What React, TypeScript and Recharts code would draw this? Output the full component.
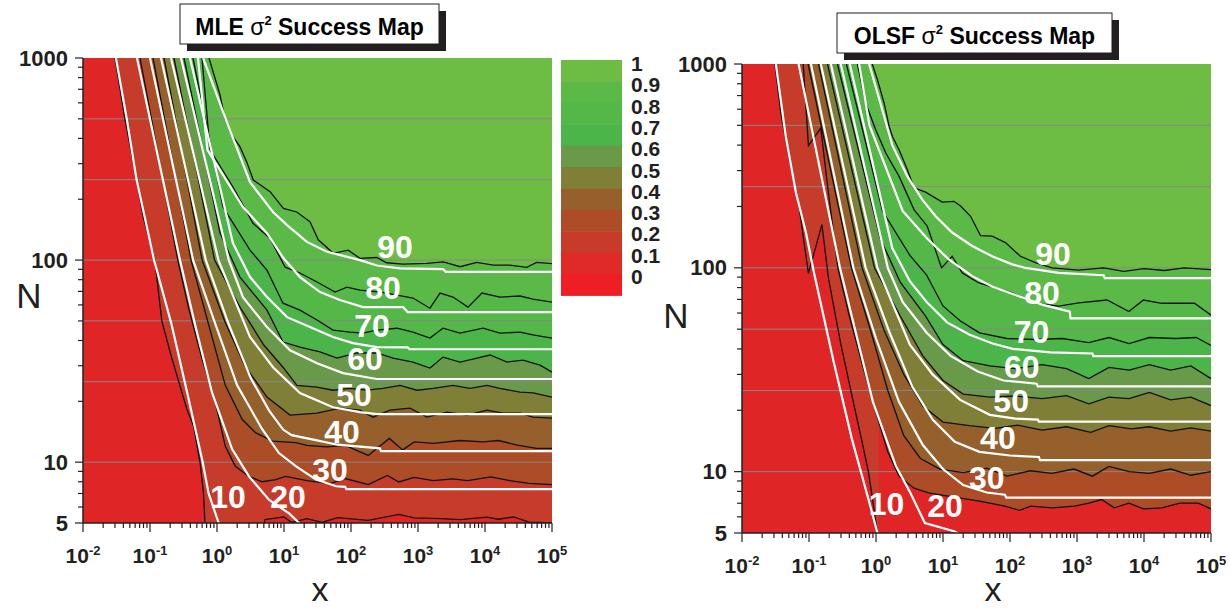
import React from "react";
import { ComposedChart, XAxis, YAxis, Area, Line, Scatter, CartesianGrid } from "recharts";

type Pt = [number, number];
type Tag = { x: number; n: number; t: string };

const FONT = "'Liberation Sans', Arial, sans-serif";
const INK = "#231f20";

// MLE panel: black contour boundaries (success 0.1 ... 0.9), points are [x, N]
const MLE_B1: Pt[] = [[0.03, 1000], [0.042, 506], [0.063, 250], [0.079, 164], [0.118, 100], [0.15, 50], [0.21, 33], [0.355, 18.3], [0.45, 15], [0.56, 9.9], [0.63, 7], [0.66, 5], [0.67, 4], [4.5, 4], [5.2, 5.2], [10, 5.36], [13, 5.03], [22, 5.26], [37, 5.03], [63, 5.32], [181, 5.15], [517, 5.52], [877, 5.3], [2200, 5.26], [4250, 5.2], [10700, 5.34], [15800, 5.22], [26800, 5.36], [45400, 5.05], [100000, 5.0]];
const MLE_B2: Pt[] = [[0.071, 1000], [0.26, 100], [0.376, 58], [0.596, 32.6], [0.944, 19.8], [1.33, 12], [1.88, 9.55], [2.99, 8.5], [4.73, 8.0], [7.5, 8.2], [10.6, 8.5], [22, 8.1], [48.5, 7.84], [82, 8.3], [181, 7.75], [349, 8.6], [517, 7.98], [877, 8.4], [1690, 8.1], [3270, 8.27], [5530, 8.1], [12200, 8.45], [23500, 8.1], [45400, 7.85], [100000, 7.75]];
const MLE_B3: Pt[] = [[0.111, 1000], [0.41, 100], [0.75, 48], [1.33, 24], [2.37, 16.3], [3.76, 14], [6.7, 12.7], [15, 12.5], [22, 12.1], [42.5, 11.9], [82, 12.1], [181, 10.8], [373, 13.1], [590, 11.5], [877, 12.6], [1700, 12.4], [4250, 12.8], [9350, 12.6], [15800, 12.8], [30600, 12.15], [59000, 11.7], [100000, 11.7]];
const MLE_B4: Pt[] = [[0.162, 1000], [0.6, 100], [1.3, 50], [2.6, 30], [5.57, 21], [12.3, 17.1], [31.1, 17.5], [68.5, 18.5], [136, 18.1], [213, 16.7], [382, 18.1], [760, 18.5], [1360, 16.7], [2710, 17.7], [5380, 17.1], [10700, 18.1], [18600, 17.5], [33300, 17.5], [52000, 16.7], [100000, 16.5]];
const MLE_B5: Pt[] = [[0.228, 1000], [0.92, 100], [2.2, 58.5], [5, 38], [9.66, 29.5], [15.6, 24], [31.1, 23.5], [53.8, 22.7], [96.7, 23.2], [173, 22.7], [300, 23.2], [540, 24], [966, 22.7], [1680, 23.2], [3330, 24], [5970, 23.2], [10700, 24], [16700, 23.2], [33300, 22.2], [52000, 22], [100000, 21]];
const MLE_B6: Pt[] = [[0.322, 1000], [1.11, 136], [2.2, 82.4], [5.57, 56.5], [9.66, 39.3], [17.3, 37.1], [34.5, 35.1], [61.8, 32.7], [123, 34.7], [244, 34.7], [424, 32.7], [842, 31.3], [1510, 29.2], [2360, 33.1], [4240, 31.3], [7600, 32.7], [11900, 33.9], [21300, 31.3], [36900, 32], [66200, 30.2], [100000, 27.9]];
const MLE_B7: Pt[] = [[0.438, 1000], [1.23, 183], [3.11, 112], [5.57, 89.1], [9.66, 61.2], [17.3, 56.5], [31.1, 50.5], [53.8, 45], [96.7, 44], [151, 43.5], [243, 45], [486, 46], [842, 44], [1510, 41.1], [2360, 46], [4240, 43.5], [9330, 46], [16700, 43.5], [33300, 44], [52000, 42.6], [100000, 41.1]];
const MLE_B8: Pt[] = [[0.597, 1000], [0.787, 351], [1.73, 230], [3.45, 152], [6.18, 128], [10.4, 92.3], [17.3, 86.3], [31.1, 77.9], [57.7, 69.5], [87, 73.5], [136, 71], [271, 69.5], [486, 67.1], [842, 64.9], [1510, 57.8], [2130, 68.7], [3330, 65.6], [5570, 58.5], [9020, 68.7], [16700, 65.6], [33300, 66.4], [52000, 64.1], [100000, 62]];
const MLE_B9: Pt[] = [[0.76, 1000], [1.11, 656], [1.31, 503], [1.66, 416], [2.2, 364], [2.77, 307], [3.48, 249], [6.2, 218], [9.8, 180], [15.5, 173], [24.4, 155], [32.5, 126], [54.5, 108], [91, 112], [136, 102], [242, 103], [341, 97], [603, 95.5], [1350, 96.3], [2400, 98], [4260, 92.7], [7520, 97.5], [13300, 94.5], [23600, 94.5], [41900, 92], [59000, 97.5], [100000, 96]];

// MLE panel: white percentile curves 10 ... 90
const MLE_W10: Pt[] = [[0.031, 1000], [0.045, 500], [0.063, 250], [0.115, 100], [0.21, 48], [0.36, 22], [0.6, 10.3], [0.75, 7], [1.06, 5], [1.2, 4.5]];
const MLE_W20: Pt[] = [[0.064, 1000], [0.28, 100], [0.47, 48], [0.84, 22.2], [1.68, 11.6], [3.0, 8.5], [6.0, 6.5], [11.9, 5.58], [16.8, 5.0], [18, 4.8]];
const MLE_W30: Pt[] = [[0.1, 1000], [0.44, 100], [0.95, 48], [2.0, 24], [4.7, 14.6], [8.4, 11.1], [15, 9.55], [30, 8.2], [60, 7.6], [82, 7.55], [85, 7.35], [100000, 7.35]];
const MLE_W40: Pt[] = [[0.146, 1000], [0.68, 100], [1.5, 48], [3.2, 26], [6, 18], [9.7, 14.5], [13, 13.6], [28.6, 12.9], [63, 12.2], [270, 11.7], [280, 11.35], [100000, 11.35]];
const MLE_W50: Pt[] = [[0.206, 1000], [1.05, 100], [3.11, 41.6], [6.85, 29.5], [17.3, 22], [53.8, 18.7], [136, 17.7], [243, 17.3], [100000, 17.3]];
const MLE_W60: Pt[] = [[0.29, 1000], [1.5, 100], [2.44, 65.6], [5.57, 46.6], [12.3, 35.8], [31.1, 30.9], [76, 27.6], [243, 25.8], [100000, 25.8]];
const MLE_W70: Pt[] = [[0.395, 1000], [1.73, 121], [3.11, 82.4], [5.57, 65.6], [11.1, 52.2], [24.4, 46.6], [53.8, 41.6], [107, 38.8], [243, 37.1], [700, 37], [750, 36.2], [100000, 36.2]];
const MLE_W80: Pt[] = [[0.52, 1000], [0.72, 351], [2.44, 183], [5.57, 136], [9.66, 103], [17.3, 82.4], [34.5, 69.5], [68.5, 63.4], [151, 58.5], [600, 58.5], [700, 55.3], [100000, 55.3]];
const MLE_W90: Pt[] = [[0.62, 1000], [1.46, 465], [3.11, 243], [6.85, 173], [11.1, 149], [22, 123], [43.8, 110], [136, 100], [243, 94], [540, 91], [2350, 90.3], [2600, 87.5], [100000, 87.5]];

const MLE_TAGS: Tag[] = [
  { x: 454, n: 116, t: "90" }, { x: 300, n: 72.6, t: "80" }, { x: 206, n: 47.1, t: "70" },
  { x: 162, n: 32.4, t: "60" }, { x: 111, n: 21.5, t: "50" }, { x: 73.5, n: 14.1, t: "40" },
  { x: 48.6, n: 9.1, t: "30" }, { x: 11.5, n: 6.7, t: "20" }, { x: 1.46, n: 6.7, t: "10" },
];

// OLSF panel
const OLSF_B1: Pt[] = [[0.031, 1000], [0.038, 575], [0.051, 340], [0.071, 200], [0.098, 94], [0.156, 163], [0.195, 89], [0.301, 41.7], [0.497, 19.5], [0.638, 13.4], [0.77, 10], [0.873, 7.6], [1.05, 5], [1.1, 4.5]];
const OLSF_B2: Pt[] = [[0.082, 1000], [0.098, 398], [0.15, 485], [0.19, 250], [0.27, 100], [0.4, 58], [0.65, 32], [1.0, 19.5], [1.5, 12.5], [2.2, 9.5], [3.69, 8.3], [6.09, 7.87], [11.4, 7.6], [35, 7.16], [84, 6.77], [139, 6.46], [203, 6.77], [430, 6.64], [912, 6.77], [1500, 7.0], [2330, 7.3], [3600, 6.64], [5950, 7.0], [9800, 6.57], [18400, 6.64], [34400, 7.0], [64300, 7.0], [100000, 6.57]];
const OLSF_B3: Pt[] = [[0.097, 1000], [0.43, 100], [0.85, 48], [1.5, 25], [2.6, 15], [4.6, 11.6], [9, 10.3], [20, 9.9], [45, 10.4], [90, 9.5], [200, 10.1], [420, 9.8], [900, 10.3], [1700, 9.5], [3000, 10.6], [6000, 10.0], [12000, 9.8], [25000, 10.3], [50000, 9.6], [100000, 10.0]];
const OLSF_B4: Pt[] = [[0.139, 1000], [0.62, 100], [1.3, 50], [2.6, 30], [5, 21], [10, 17.5], [25, 16.8], [60, 16.3], [130, 16.9], [300, 16.0], [700, 16.6], [1600, 15.6], [3000, 16.8], [6500, 16.2], [12000, 16.6], [25000, 15.8], [50000, 16.4], [100000, 15.8]];
const OLSF_B5: Pt[] = [[0.189, 1000], [0.95, 100], [2.3, 58], [5, 37], [10, 28], [20, 24], [50, 23.2], [120, 23.5], [300, 22.8], [700, 23.6], [1500, 21.5], [3000, 23.2], [6000, 22.8], [12000, 24.5], [25000, 22.5], [50000, 23.2], [100000, 21.1]];
const OLSF_B6: Pt[] = [[0.266, 1000], [1.15, 140], [2.3, 85], [5.5, 58], [10, 42], [20, 35], [50, 33], [120, 32], [300, 33.5], [700, 32], [1500, 28.6], [3000, 32.5], [6000, 31.5], [12000, 33.5], [25000, 31.5], [50000, 33], [100000, 28.6]];
const OLSF_B7: Pt[] = [[0.362, 1000], [1.25, 190], [3.2, 115], [5.7, 92], [10, 65], [18, 55], [35, 48], [90, 45], [250, 44.5], [600, 45], [1500, 43], [3000, 45.5], [6000, 42.5], [12000, 45.5], [30000, 45], [60000, 45.5], [100000, 41.6]];
const OLSF_B8: Pt[] = [[0.529, 1000], [0.7, 644], [0.99, 476], [1.4, 366], [2.21, 281], [3.69, 193], [5.83, 160], [9.5, 100], [13.7, 114], [19.4, 94.4], [34.3, 84.3], [108, 75.3], [214, 67.3], [533, 64.9], [1060, 67.3], [2810, 69.5], [5950, 61], [9800, 69.5], [18400, 67], [34400, 67], [56700, 67], [100000, 58.6]];
const OLSF_B9: Pt[] = [[0.88, 1000], [1.05, 838], [1.32, 644], [1.57, 494], [1.76, 441], [2.21, 380], [2.94, 303], [3.69, 247], [5.5, 235], [9.75, 210], [14.6, 212], [18.3, 201], [25.8, 179], [36.3, 144], [54.2, 143], [85.5, 133], [143, 114], [240, 106], [424, 100], [1060, 97.5], [2500, 100], [5000, 96], [10000, 99], [20000, 97], [40000, 100], [100000, 98]];

const OLSF_W10: Pt[] = [[0.032, 1000], [0.045, 441], [0.064, 233], [0.09, 149], [0.119, 94.4], [0.234, 34.5], [0.438, 14.4], [0.638, 9.2], [0.873, 6.3], [1.05, 5], [1.1, 4.6]];
const OLSF_W20: Pt[] = [[0.07, 1000], [0.29, 100], [0.5, 48], [0.9, 22], [1.97, 10.7], [3.25, 7.87], [5.37, 5.6], [14.6, 5.1], [16.6, 5], [18, 4.8]];
const OLSF_W30: Pt[] = [[0.107, 1000], [0.46, 100], [1.0, 45], [2.2, 22], [5, 13.5], [10, 10.3], [20, 8.6], [45, 7.9], [84, 7.7], [88, 7.45], [100000, 7.45]];
const OLSF_W40: Pt[] = [[0.15, 1000], [0.7, 100], [1.6, 48], [3.5, 26], [7, 18], [15, 14], [35, 12.5], [100, 12.0], [270, 11.8], [280, 11.4], [100000, 11.4]];
const OLSF_W50: Pt[] = [[0.212, 1000], [1.05, 100], [3.2, 42], [7, 30], [18, 22.5], [50, 19], [120, 18.2], [260, 18], [270, 17.6], [100000, 17.6]];
const OLSF_W60: Pt[] = [[0.298, 1000], [1.5, 100], [2.5, 68], [5.7, 48], [13, 37], [33, 31], [80, 28], [250, 27], [260, 26.2], [100000, 26.2]];
const OLSF_W70: Pt[] = [[0.406, 1000], [1.75, 125], [3.2, 86], [5.7, 68], [11.5, 54], [25, 47], [55, 42.5], [110, 40], [400, 38.5], [1700, 38], [1750, 36.9], [100000, 36.9]];
const OLSF_W80: Pt[] = [[0.56, 1000], [0.8, 500], [2.5, 190], [5.7, 140], [12.2, 110], [27.3, 91], [54, 81], [135, 72.6], [300, 66], [780, 61], [800, 56.5], [100000, 56.5]];
const OLSF_W90: Pt[] = [[0.79, 1000], [1.2, 620], [1.75, 400], [2.94, 281], [4.91, 216], [7.76, 179], [13.7, 149], [27.3, 128], [54, 114], [108, 104], [170, 100], [533, 94.4], [2500, 92], [2600, 89], [100000, 89]];

const OLSF_TAGS: Tag[] = [
  { x: 440, n: 117, t: "90" }, { x: 300, n: 75, t: "80" }, { x: 210, n: 48.5, t: "70" },
  { x: 150, n: 32.6, t: "60" }, { x: 104, n: 22.3, t: "50" }, { x: 66, n: 14.7, t: "40" },
  { x: 45, n: 9.34, t: "30" }, { x: 10.7, n: 6.76, t: "20" }, { x: 1.44, n: 6.9, t: "10" },
];

// fill for the band above each black boundary, low band underneath everything
const BAND_COLORS = ["#c63b2a", "#ac4d27", "#95602b", "#7f7f37", "#699a49", "#4cb549", "#53b848", "#5bba47", "#6dbd45"];
const LOW_COLOR = "#e02527";

const LEGEND_COLORS = ["#6dbd45", "#5bba47", "#53b848", "#4cb549", "#699a49", "#7f7f37", "#95602b", "#ac4d27", "#c63b2a", "#df2a27", "#ed1f24"];
const LEGEND_LABELS = ["1", "0.9", "0.8", "0.7", "0.6", "0.5", "0.4", "0.3", "0.2", "0.1", "0"];

const GRID_N = [10, 25, 50, 100, 250, 500];
const X_MAJOR = [0.01, 0.1, 1, 10, 100, 1000, 10000, 100000];
const X_EXP = ["-2", "-1", "0", "1", "2", "3", "4", "5"];
const X_TICKS = [...X_MAJOR, ...X_MAJOR.slice(0, -1).flatMap((d) => [2, 3, 4, 5, 6, 7, 8, 9].map((m) => m * d))];
const Y_MAJOR = [5, 10, 100, 1000];
const Y_TICKS = [...Y_MAJOR, 6, 7, 8, 9, 20, 30, 40, 50, 60, 70, 80, 90, 200, 300, 400, 500, 600, 700, 800, 900];

const rows = (c: Pt[]) => c.map(([x, n]) => ({ x, n }));

const XTick = (p: any) => {
  const v = p.payload.value;
  const i = X_MAJOR.indexOf(v);
  return (
    <g>
      <line x1={p.x} x2={p.x} y1={p.y} y2={p.y + (i >= 0 ? 9 : 5)} stroke={INK} strokeWidth={1.2} />
      {i >= 0 && (
        <text x={p.x} y={p.y + 40} textAnchor="middle" fill={INK} fontFamily={FONT} fontWeight="bold" fontSize={21}>
          10<tspan dy={-8} fontSize={13}>{X_EXP[i]}</tspan>
        </text>
      )}
    </g>
  );
};

const YTick = (p: any) => {
  const v = p.payload.value;
  const major = Y_MAJOR.includes(v);
  return (
    <g>
      <line x1={p.x} x2={p.x - (major ? 8 : 5)} y1={p.y} y2={p.y} stroke={INK} strokeWidth={1.2} />
      {major && (
        <text x={p.x - 15} y={p.y} textAnchor="end" dominantBaseline="central" fill={INK} fontFamily={FONT} fontWeight="bold" fontSize={22}>
          {v}
        </text>
      )}
    </g>
  );
};

const TagShape = (p: any) => (
  <text x={p.cx} y={p.cy} textAnchor="middle" dominantBaseline="central" fill="#fff" fontFamily={FONT} fontWeight="bold" fontSize={32}>
    {p.payload.t}
  </text>
);

type PanelProps = {
  left: number;
  width: number;
  margin: { top: number; right: number; bottom: number; left: number };
  yWidth: number;
  blacks: Pt[][];
  whites: Pt[][];
  tags: Tag[];
};

function Panel({ left, width, margin, yWidth, blacks, whites, tags }: PanelProps) {
  const axisLine = { stroke: INK, strokeWidth: 1.5 };
  return (
    <div style={{ position: "absolute", left, top: 0 }}>
      <ComposedChart width={width} height={612} margin={margin}>
        <CartesianGrid fill={LOW_COLOR} fillOpacity={1} horizontal={false} vertical={false} />
        <XAxis dataKey="x" type="number" scale="log" domain={[0.01, 100000]} allowDataOverflow ticks={X_TICKS} interval={0}
          tick={(p: any) => <XTick {...p} />} tickLine={false} tickSize={0} tickMargin={0} height={50} axisLine={axisLine} />
        <XAxis xAxisId="top" orientation="top" type="number" scale="log" domain={[0.01, 100000]} allowDataOverflow
          tick={false} tickLine={false} height={0} axisLine={axisLine} />
        <YAxis dataKey="n" type="number" scale="log" domain={[5, 1000]} allowDataOverflow ticks={Y_TICKS} interval={0}
          tick={(p: any) => <YTick {...p} />} tickLine={false} tickSize={0} tickMargin={0} width={yWidth} axisLine={axisLine} />
        <YAxis yAxisId="right" orientation="right" type="number" scale="log" domain={[5, 1000]} allowDataOverflow
          tick={false} tickLine={false} width={0} axisLine={axisLine} />
        {blacks.map((c, i) => (
          <Area key={"a" + i} data={rows(c)} dataKey="n" type="linear" baseValue={1000} fill={BAND_COLORS[i]} fillOpacity={1}
            stroke="none" isAnimationActive={false} />
        ))}
        {GRID_N.map((g) => (
          <Line key={"g" + g} data={[{ x: 0.01, n: g }, { x: 100000, n: g }]} dataKey="n" stroke="#888" strokeWidth={1}
            dot={false} isAnimationActive={false} />
        ))}
        {blacks.map((c, i) => (
          <Line key={"b" + i} data={rows(c)} dataKey="n" type="linear" stroke="#111" strokeWidth={1.3} dot={false} isAnimationActive={false} />
        ))}
        {whites.map((c, i) => (
          <Line key={"w" + i} data={rows(c)} dataKey="n" type="linear" stroke="#fff" strokeWidth={2.2} dot={false} isAnimationActive={false} />
        ))}
        <Scatter data={tags} shape={TagShape} isAnimationActive={false} />
      </ComposedChart>
    </div>
  );
}

function TitleBox({ x, y, w, h, base, name }: { x: number; y: number; w: number; h: number; base: number; name: string }) {
  return (
    <g>
      <rect x={x + 7} y={y + 7} width={w} height={h} fill={INK} />
      <rect x={x} y={y} width={w} height={h} fill="#fff" stroke={INK} strokeWidth={1} />
      <text x={x + w / 2} y={base} textAnchor="middle" fill="#000" fontFamily={FONT} fontWeight="bold" fontSize={23}>
        {name} <tspan fontWeight="normal">σ</tspan>
        <tspan dy={-10} fontSize={13}>2</tspan>
        <tspan dy={10}> Success Map</tspan>
      </text>
    </g>
  );
}

export default function App() {
  return (
    <div style={{ position: "relative", width: 1230, height: 612, background: "#fff", overflow: "hidden" }}>
      <style>{"body{margin:0}"}</style>
      <Panel left={0} width={600} margin={{ top: 58, right: 48, bottom: 39, left: 0 }} yWidth={83}
        blacks={[MLE_B1, MLE_B2, MLE_B3, MLE_B4, MLE_B5, MLE_B6, MLE_B7, MLE_B8, MLE_B9]}
        whites={[MLE_W10, MLE_W20, MLE_W30, MLE_W40, MLE_W50, MLE_W60, MLE_W70, MLE_W80, MLE_W90]}
        tags={MLE_TAGS} />
      <Panel left={660} width={570} margin={{ top: 64, right: 19, bottom: 29, left: 0 }} yWidth={82}
        blacks={[OLSF_B1, OLSF_B2, OLSF_B3, OLSF_B4, OLSF_B5, OLSF_B6, OLSF_B7, OLSF_B8, OLSF_B9]}
        whites={[OLSF_W10, OLSF_W20, OLSF_W30, OLSF_W40, OLSF_W50, OLSF_W60, OLSF_W70, OLSF_W80, OLSF_W90]}
        tags={OLSF_TAGS} />
      <svg width={1230} height={612} style={{ position: "absolute", left: 0, top: 0, pointerEvents: "none" }}>
        <TitleBox x={180} y={4} w={259} h={40} base={35} name="MLE" />
        <TitleBox x={837} y={13} w={275} h={40} base={44} name="OLSF" />
        {LEGEND_COLORS.map((c, i) => (
          <rect key={c + i} x={561} y={60 + i * 21.4} width={61} height={21.9} fill={c} />
        ))}
        {LEGEND_LABELS.map((t, i) => (
          <text key={t} x={631} y={63.5 + i * 21.3} dominantBaseline="central" fill={INK} fontFamily={FONT} fontWeight="bold" fontSize={21}>
            {t}
          </text>
        ))}
        <text x={29} y={308} textAnchor="middle" fill={INK} fontFamily={FONT} fontSize={35}>N</text>
        <text x={320} y={601} textAnchor="middle" fill={INK} fontFamily={FONT} fontSize={34}>x</text>
        <text x={676} y={328} textAnchor="middle" fill={INK} fontFamily={FONT} fontSize={35}>N</text>
        <text x={993} y={601} textAnchor="middle" fill={INK} fontFamily={FONT} fontSize={34}>x</text>
      </svg>
    </div>
  );
}
